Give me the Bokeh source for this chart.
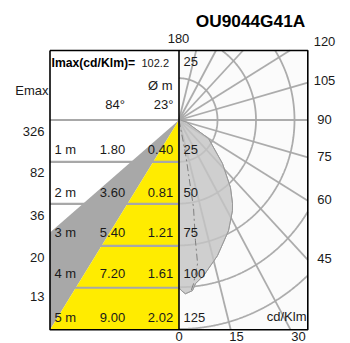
import math
from bokeh.plotting import figure
from bokeh.models import Range1d
from bokeh.core.properties import value
from bokeh.embed import file_html
from bokeh.resources import INLINE

# --- data -----------------------------------------------------------------
title = "OU9044G41A"
distances = [1, 2, 3, 4, 5]
emax = [326, 82, 36, 20, 13]
dia_84 = ["1.80", "3.60", "5.40", "7.20", "9.00"]
dia_23 = ["0.40", "0.81", "1.21", "1.61", "2.02"]
radii = [25, 50, 75, 100, 125]
ray_angles = [15, 30, 45, 60, 75, 90, 105, 120, 135, 150, 165]
solid_angle = [0, 1, 2.3, 4.9, 6.2, 9.7, 17.1, 25.9, 32.6, 34.8, 39.6, 47.3, 60, 75, 85, 90]
solid_value = [100.3, 102.2, 104, 102.4, 98.5, 94.5, 84.9, 73.6, 64.4, 60.9, 52.4, 38.4, 22.1, 5, 1, 0]
dash_angle = [0, 11.9, 10.2, 8.4, 8, 5.5, 4.5]
dash_value = [0, 20.5, 53.2, 73, 86.7, 98.4, 102]
white_edge_m = 2.68

# --- geometry -------------------------------------------------------------
W, H = 350, 343
CX, CY = 178.5, 119.5      # polar origin on the page
SX, SY = 1.54, 1.672       # pixels per cd/klm
L, R, T, B = 49.5, 307.3, 50, 329.2


def dx(px):
    return (px - CX) / SX


def dy(py):
    return (CY - py) / SY


p = figure(width=W, height=H, output_backend="svg", toolbar_location=None,
           x_range=Range1d(dx(0), dx(W)), y_range=Range1d(dy(H), dy(0)),
           min_border=0, outline_line_color=None, tools="")
p.axis.visible = False
p.grid.visible = False
p.background_fill_color = "white"
p.border_fill_color = "white"

xl, xr, yt, yb = dx(L), dx(R), dy(T), dy(B)
GRID = "#a8a8a8"
FONT = value("Liberation Sans")

# right-hand panel background
p.quad(left=[0], right=[xr], top=[yt], bottom=[yb], fill_color="#fbfbfb", line_color=None)

# left-hand panel beam fan
row_h = -yb / distances[-1]
p.patch([0, xl, xl], [0, -white_edge_m * row_h, yb], fill_color="#a8a8a8", line_color=None)
p.patch([0, xl, 0], [0, yb, yb], fill_color="#ffec00", line_color=None)


def to_xy(angle, r):
    a = math.radians(angle)
    return r * math.sin(a), -r * math.cos(a)


# photometric shape, under the grid
sx, sy = zip(*[to_xy(a, r) for a, r in zip(solid_angle, solid_value)])
p.patch(list(sx), list(sy), fill_color="#cfcfcf", line_color="#9a9a9a", line_width=1)

# polar grid, clipped to the panel
for r in radii:
    xs, ys = [], []
    for i in range(0, 721):
        x, y = to_xy(i / 4, r)
        if x <= xr and yb <= y <= yt:
            xs.append(x)
            ys.append(y)
        else:
            xs.append(float("nan"))
            ys.append(float("nan"))
    p.line(xs, ys, line_color=GRID, line_width=1.8, line_alpha=0.95)
for ang in ray_angles:
    x, y = to_xy(ang, 1.0)
    t = min(xr / x, (yb / y) if y < 0 else (yt / y if y > 0 else 1e9))
    p.line([0, x * t], [0, y * t], line_color=GRID, line_width=1.8, line_alpha=0.95)

# shape over the grid: translucent veil, then dashed curve
p.patch(list(sx), list(sy), fill_color="#cfcfcf", fill_alpha=0.6, line_color="#9a9a9a", line_width=1)
dxs, dys = zip(*[to_xy(a, r) for a, r in zip(dash_angle, dash_value)])
p.line(list(dxs), list(dys), line_color="#808080", line_width=1, line_dash="7 3 2 3")

# table rows
for d in [0] + distances[:-1]:
    p.line([xl, 0], [-d * row_h, -d * row_h], line_color=GRID, line_width=2.2)

# frame
p.line([xl, xr, xr, xl, xl], [yt, yt, yb, yb, yt], line_color="black", line_width=1.6)
p.line([0, 0], [yt, yb], line_color="black", line_width=1.6)


def txt(px, py, s, size=13, align="center", style="normal", color="#1a1a1a"):
    p.text([dx(px)], [dy(py)], text=[s], text_font=FONT, text_font_size=f"{size}px",
           text_align=align, text_baseline="middle", text_font_style=style, text_color=color)


row_py = [149, 191.5, 231.5, 273, 317]
for d, d84, d23, y, rr in zip(distances, dia_84, dia_23, row_py, radii):
    txt(54, y, f"{d} m", align="left")
    txt(112, y, d84)
    txt(160, y, d23)
    txt(183, y, str(rr), align="left")
for e, y in zip(emax, [131, 172, 215, 257, 296]):
    txt(44, y, str(e), align="right")
txt(48, 90, "Emax", align="right")
txt(51, 62, "Imax(cd/Klm)=", size=12.2, align="left", style="bold", color="black")
txt(141, 62, "102.2", size=11, align="left")
txt(172, 85, "Ø m", align="right")
txt(114.5, 104, "84°")
txt(163, 104, "23°")
txt(183, 61, "25", align="left")
txt(178, 38, "180")
txt(250, 20, title, size=17.3, style="bold", color="black")
for s, x, y in [("120", 324, 41), ("105", 324, 80), ("90", 324, 119), ("75", 324, 156),
                ("60", 324, 199), ("45", 324, 258), ("0", 178.5, 335.5), ("15", 236, 335.5), ("30", 298, 335.5)]:
    txt(x, y, s)
txt(306, 316, "cd/Klm", size=13, align="right")

open("out.html", "w").write(file_html(p, INLINE))
